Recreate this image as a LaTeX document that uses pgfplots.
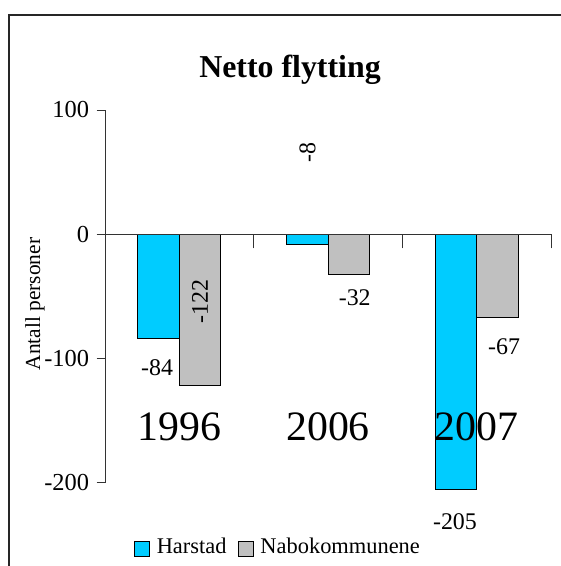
\documentclass[border=0pt]{standalone}
\usepackage{fontspec}
\setmainfont{Liberation Serif}
\usepackage{pgfplots}
\pgfplotsset{compat=1.18}
\definecolor{harstad}{HTML}{00CCFF}
\definecolor{nabo}{HTML}{C0C0C0}
\pgfplotsset{mysq/.style={legend image code/.code={\draw[##1] (0bp,-10bp) rectangle (15bp,5bp);}}}
\begin{document}
\begin{tikzpicture}[x=1bp,y=1bp]
\useasboundingbox (0,0) rectangle (561,566);
\draw[line width=1.2bp, black!85] (9,0) -- (9,551) -- (561,551);
\begin{axis}[
  at={(105bp,83.2bp)}, anchor=south west,
  scale only axis, width=446bp, height=372.8bp,
  xmin=-0.5, xmax=2.5, ymin=-200, ymax=100,
  axis x line=middle, axis y line=left,
  axis line style={-, line width=0.9bp, black!80},
  axis on top,
  clip=false,
  ybar=0pt, bar width=41.5bp,
  ytick={-200,-100,0,100}, yticklabels={-200,-100,0,100},
  xtick={0,1,2}, xticklabels={1996,2006,2007},
  major x tick style={draw=none},
  minor xtick={0.5,1.5,2.5},
  minor tick length=14bp, major tick length=8.4bp,
  tick align=outside,
  tick style={line width=0.9bp, black!80},
  yticklabel style={font=\fontsize{24.5}{24.5}\selectfont, xshift=-4bp},
  xticklabel style={font=\fontsize{42}{42}\selectfont, anchor=base, yshift=-197.7bp},
  title={Netto flytting},
  title style={font=\bfseries\fontsize{32}{32}\selectfont, at={(axis description cs:0.4148,1.0724)}, anchor=base},
  ylabel={Antall personer},
  ylabel style={font=\fontsize{21.5}{21.5}\selectfont, at={(axis description cs:-0.1457,0.4796)}, anchor=base, rotate=0},
  legend style={at={(axis description cs:0.3875,-0.17)}, anchor=center, draw=none, fill=none,
    legend columns=-1, font=\fontsize{22.5}{22.5}\selectfont,
    /tikz/every odd column/.append style={column sep=5bp},
    /tikz/every even column/.append style={column sep=9bp}},
]
\addplot[fill=harstad, draw=black, line width=1bp, mysq]
  coordinates {(0,-84) (1,-8) (2,-205)};
\addplot[fill=nabo, draw=black, line width=1bp, mysq]
  coordinates {(0,-122) (1,-32) (2,-67)};
\legend{Harstad, Nabokommunene}
\node[rotate=90, font=\fontsize{24}{24}\selectfont, inner sep=0pt] at (axis cs:0.863,65.9) {-8};
\node[rotate=90, font=\fontsize{24}{24}\selectfont, inner sep=0pt] at (axis cs:0.139,-53.9) {-122};
\node[font=\fontsize{24}{24}\selectfont, inner sep=0pt] at (axis cs:-0.15,-107.7) {-84};
\node[font=\fontsize{24}{24}\selectfont, inner sep=0pt] at (axis cs:1.18,-51.4) {-32};
\node[font=\fontsize{24}{24}\selectfont, inner sep=0pt] at (axis cs:2.184,-90.8) {-67};
\node[font=\fontsize{24}{24}\selectfont, inner sep=0pt] at (axis cs:1.854,-231.5) {-205};
\end{axis}
\end{tikzpicture}
\end{document}
